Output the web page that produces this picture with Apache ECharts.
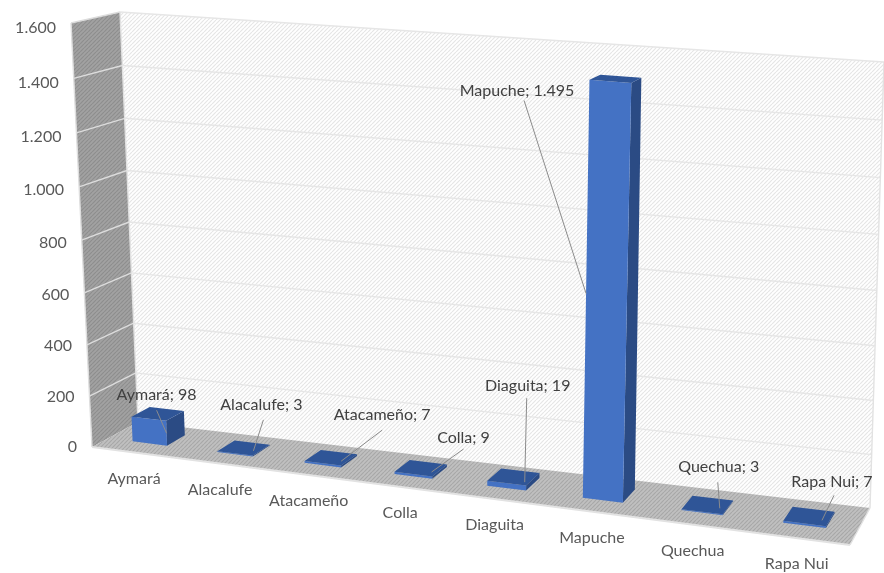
<!DOCTYPE html>
<html><head><meta charset="utf-8">
<style>html,body{margin:0;padding:0;background:#fff}#c{width:884px;height:573px}</style>
<script src="https://cdn.jsdelivr.net/npm/echarts@6/dist/echarts.min.js"></script>
</head><body><div id="c"></div>
<script>
const categories = ['Aymará','Alacalufe','Atacameño','Colla','Diaguita','Mapuche','Quechua','Rapa Nui'];
const values = [98,3,7,9,19,1495,3,7];
const yTicks = [0,200,400,600,800,1000,1200,1400,1600];
const tickLabels = ['0','200','400','600','800','1.000','1.200','1.400','1.600'];
const valueLabels = ['98','3','7','9','19','1.495','3','7'];

// Annotation placement relative to each bar's leader anchor: [labelDx,labelDy,leaderDx,leaderDy]
const labelOffsets = [[-10,-38,-10,-23],[8,-46,10,-31],[41,-46,41,-31],[32,-34,32,-23],[3,-96,2,-84],[-69,-203,-62,-193],[-1,-41,-2,-26],[10,-38,12,-25]];

// view: projection of the plot box onto the page
const floorQuad = [[92,447],[850,545],[870,508],[138,422]];   // front-left, front-right, back-right, back-left
const riseQuad  = [[-21,-424],[22,-470],[14,-446],[-18,-410]]; // page vector of the full axis height at those corners
const persp = 1.05, warp = 1.14, wFront = 0.34, wBack = 0.74, barShare = 0.41;

function homography(q){
  const [p0,p1,p2,p3]=q;
  const dx1=p1[0]-p2[0],dx2=p3[0]-p2[0],sx=p0[0]-p1[0]+p2[0]-p3[0];
  const dy1=p1[1]-p2[1],dy2=p3[1]-p2[1],sy=p0[1]-p1[1]+p2[1]-p3[1];
  const d=dx1*dy2-dx2*dy1;
  const g=(sx*dy2-dx2*sy)/d,h=(dx1*sy-sx*dy1)/d;
  const a=p1[0]-p0[0]+g*p1[0],b=p3[0]-p0[0]+h*p3[0],c=p0[0];
  const e=p1[1]-p0[1]+g*p1[1],f=p3[1]-p0[1]+h*p3[1],i=p0[1];
  return (u,w)=>{const k=g*u+h*w+1;return [(a*u+b*w+c)/k,(e*u+f*w+i)/k];};
}
const floorH=homography(floorQuad);
function rise(u,w,k){
  const r=riseQuad;
  return (r[0][k]*(1-u)+r[1][k]*u)*(1-w)+(r[3][k]*(1-u)+r[2][k]*u)*w;
}
function project(u0,v,w){
  const u=warp*u0/(1+(warp-1)*u0);
  const p=floorH(u,w), t=v/(v+persp*(1-v));
  return [p[0]+rise(u,w,0)*t,p[1]+rise(u,w,1)*t];
}
function hatch(bg,fg,period){
  const n=period, c=document.createElement('canvas');c.width=n;c.height=n;
  const x=c.getContext('2d');x.fillStyle=bg;x.fillRect(0,0,n,n);
  x.strokeStyle=fg;x.lineWidth=1.2;
  for(let o=-n;o<=n;o+=n){x.beginPath();x.moveTo(o,n);x.lineTo(o+n,0);x.stroke();}
  return {image:c,repeat:'repeat'};
}
const wallFill=hatch('#ffffff','#e6e6e6',4), floorFill=hatch('#c0c0c0','#a8a8a8',4), sideFill=hatch('#a2a2a2','#8e8e8e',4);

function uv(params,api,cat,val){
  const cs=params.coordSys, p=api.coord([cat,val]);
  return [(p[0]-cs.x)/cs.width,(cs.y+cs.height-p[1])/cs.height];
}
const poly=(pts,fill,stroke)=>({type:'polygon',silent:true,shape:{points:pts},style:{fill:fill,stroke:stroke||null,lineWidth:stroke?1:0}});
const seg=(a,b,col,w)=>({type:'line',silent:true,shape:{x1:a[0],y1:a[1],x2:b[0],y2:b[1]},style:{stroke:col,lineWidth:w,fill:null}});
const txt=(x,y,s,col,size,align)=>({type:'text',silent:true,x:x,y:y,style:{text:s,fill:col,font:size+'px Lato, "Open Sans", sans-serif',align:align||'center',verticalAlign:'middle'}});

function renderScene(params,api){
  const ch=[];
  ch.push(poly([project(0,0,1),project(1,0,1),project(1,1,1),project(0,1,1)],wallFill));
  ch.push(poly([project(0,0,0),project(0,0,1),project(0,1,1),project(0,1,0)],sideFill));
  ch.push(poly([project(0,0,0),project(1,0,0),project(1,0,1),project(0,0,1)],floorFill));
  yTicks.forEach((t,i)=>{
    const v=uv(params,api,0,t)[1];
    if(i>0){
      ch.push(seg(project(0,v,1),project(1,v,1),'#e6e6e6',1.4));
      ch.push(seg(project(0,v,0),project(0,v,1),'#dcdcdc',1.4));
    }
    const p=project(0,v,0);
    ch.push(txt(p[0]-15,p[1]+5*v,tickLabels[i],'#595959',16,'right'));
  });
  ch.push(seg(project(0,0,1),project(0,1,1),'#e2e2e2',1.4));
  ch.push(seg(project(1,0,1),project(1,1,1),'#e2e2e2',1.4));
  ch.push(seg(project(0,0,0),project(0,1,0),'#dedede',1.4));
  ch.push(seg(project(0,0,0),project(1,0,0),'#e2e2e2',2));
  ch.push(seg(project(1,0,0),project(1,0,1),'#e2e2e2',1.4));
  categories.forEach((name,i)=>{
    const u=uv(params,api,i,0)[0], p=project(u,0,0);
    ch.push(txt(p[0],p[1]+26,name,'#595959',16));
  });
  return {type:'group',children:ch};
}
function renderBar(params,api){
  const i=api.value(0), [uc,v]=uv(params,api,i,api.value(1));
  const half=api.size([1,0])[0]/params.coordSys.width*barShare/2;
  const u0=uc-half,u1=uc+half;
  const fb0=project(u0,0,wFront),fb1=project(u1,0,wFront),ft0=project(u0,v,wFront),ft1=project(u1,v,wFront);
  const bb1=project(u1,0,wBack),bt1=project(u1,v,wBack),bt0=project(u0,v,wBack);
  return {type:'group',children:[
    poly([fb1,bb1,bt1,ft1],'#2b4b84'),
    poly([fb0,fb1,ft1,ft0],'#4472c4'),
    poly([ft0,ft1,bt1,bt0],'#2f5597')
  ]};
}
function renderLabel(params,api){
  const i=api.value(0), [uc,v]=uv(params,api,i,api.value(1));
  const half=api.size([1,0])[0]/params.coordSys.width*barShare/2;
  const tall=v>0.5, flat=v<0.02;
  const a=project(tall?uc-half:(flat?uc+half*0.65:uc+half),v/2,flat?0.5:wFront), o=labelOffsets[i];
  return {type:'group',children:[
    seg([a[0]+o[2],a[1]+o[3]],a,'#8c8c8c',1),
    txt(a[0]+o[0],a[1]+o[1],categories[i]+'; '+valueLabels[i],'#404040',16)
  ]};
}
const rows=values.map((v,i)=>[i,v]);
const chart=echarts.init(document.getElementById('c'));
chart.setOption({
  animation:false,
  backgroundColor:'#fff',
  grid:{left:85,right:20,top:28,bottom:127},
  xAxis:{type:'category',data:categories,show:false},
  yAxis:{type:'value',min:0,max:1600,interval:200,show:false},
  series:[
    {type:'custom',silent:true,z:1,data:[[0,0]],renderItem:renderScene,encode:{x:0,y:1}},
    {type:'custom',silent:true,z:2,data:rows,renderItem:renderBar,encode:{x:0,y:1}},
    {type:'custom',silent:true,z:3,data:rows,renderItem:renderLabel,encode:{x:0,y:1}}
  ]
});
</script></body></html>
